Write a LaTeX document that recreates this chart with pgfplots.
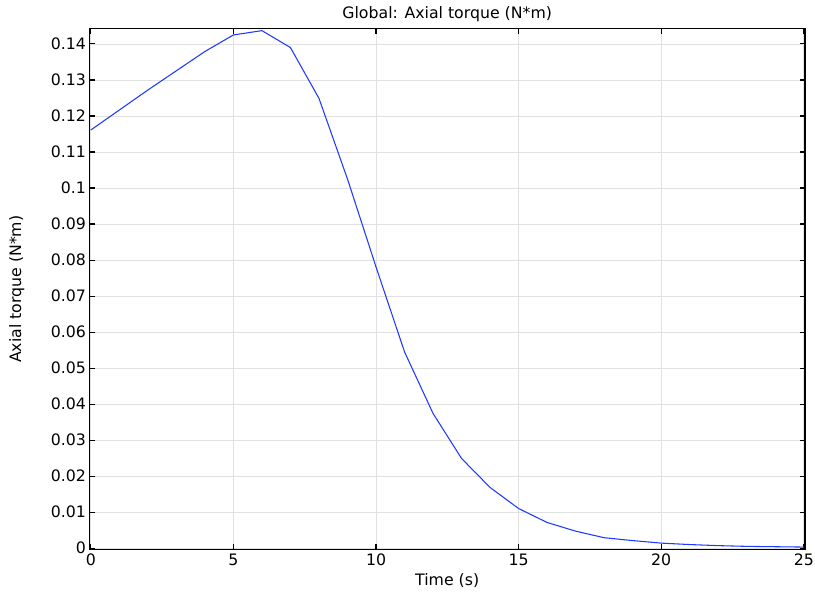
\documentclass[border=0pt]{standalone}
\usepackage{pgfplots}
\pgfplotsset{compat=1.18}
\usepackage{fontspec}
\setmainfont{DejaVu Sans}
\definecolor{lineblue}{RGB}{31,58,255}
\definecolor{gridgray}{RGB}{225,225,225}
\begin{document}
\begin{tikzpicture}
\path[use as bounding box] (-67pt,-33.4pt) rectangle (544.1pt,412.1pt);
\begin{axis}[
  scale only axis,
  width=536.6pt, height=390.4pt,
  at={(0,0)}, anchor=south west,
  xmin=-0.05, xmax=25.04,
  ymin=-0.0004, ymax=0.14417,
  xtick={0,5,10,15,20,25},
  ytick={0,0.01,0.02,0.03,0.04,0.05,0.06,0.07,0.08,0.09,0.1,0.11,0.12,0.13,0.14},
  tick align=inside,
  major tick length=4pt,
  tick style={black, line width=0.8pt},
  grid=major,
  major grid style={gridgray, line width=0.6pt},
  axis line style={black, line width=0.8pt},
  /pgf/number format/assume math mode=true,
  yticklabel style={/pgf/number format/fixed, /pgf/number format/precision=2, font=\fontsize{11.8}{14}\selectfont, xshift=1pt},
  xticklabel style={font=\fontsize{11.8}{14}\selectfont},
  scaled y ticks=false,
  title={Global: Axial torque (N*m)},
  every axis title shift=0pt,
  title style={font=\fontsize{11.8}{14}\selectfont, at={(axis description cs:0.5,1)}, anchor=center, yshift=11.2pt},
  xlabel={Time (s)},
  ylabel={Axial torque (N*m)},
  xlabel style={font=\fontsize{11.8}{14}\selectfont, at={(axis description cs:0.5,0)}, anchor=center, yshift=-22.9pt},
  ylabel style={font=\fontsize{11.8}{14}\selectfont, at={(axis description cs:0,0.5)}, anchor=center, yshift=54.5pt},
]
\addplot[lineblue, line width=0.8pt] coordinates {
(0,0.1161) (2,0.1272) (4,0.1379) (5,0.1425) (6,0.1437) (7,0.1390)
(8,0.1249) (9,0.1025) (10,0.0781) (11,0.0545) (12,0.0374) (13,0.0249)
(14,0.01685) (15,0.0110) (16,0.00713) (17,0.00472) (18,0.00290)
(19,0.0021) (20,0.0014) (21,0.0010) (22,0.0007) (23,0.0005) (24,0.0004) (25,0.0003)
};
\end{axis}
\end{tikzpicture}
\end{document}
